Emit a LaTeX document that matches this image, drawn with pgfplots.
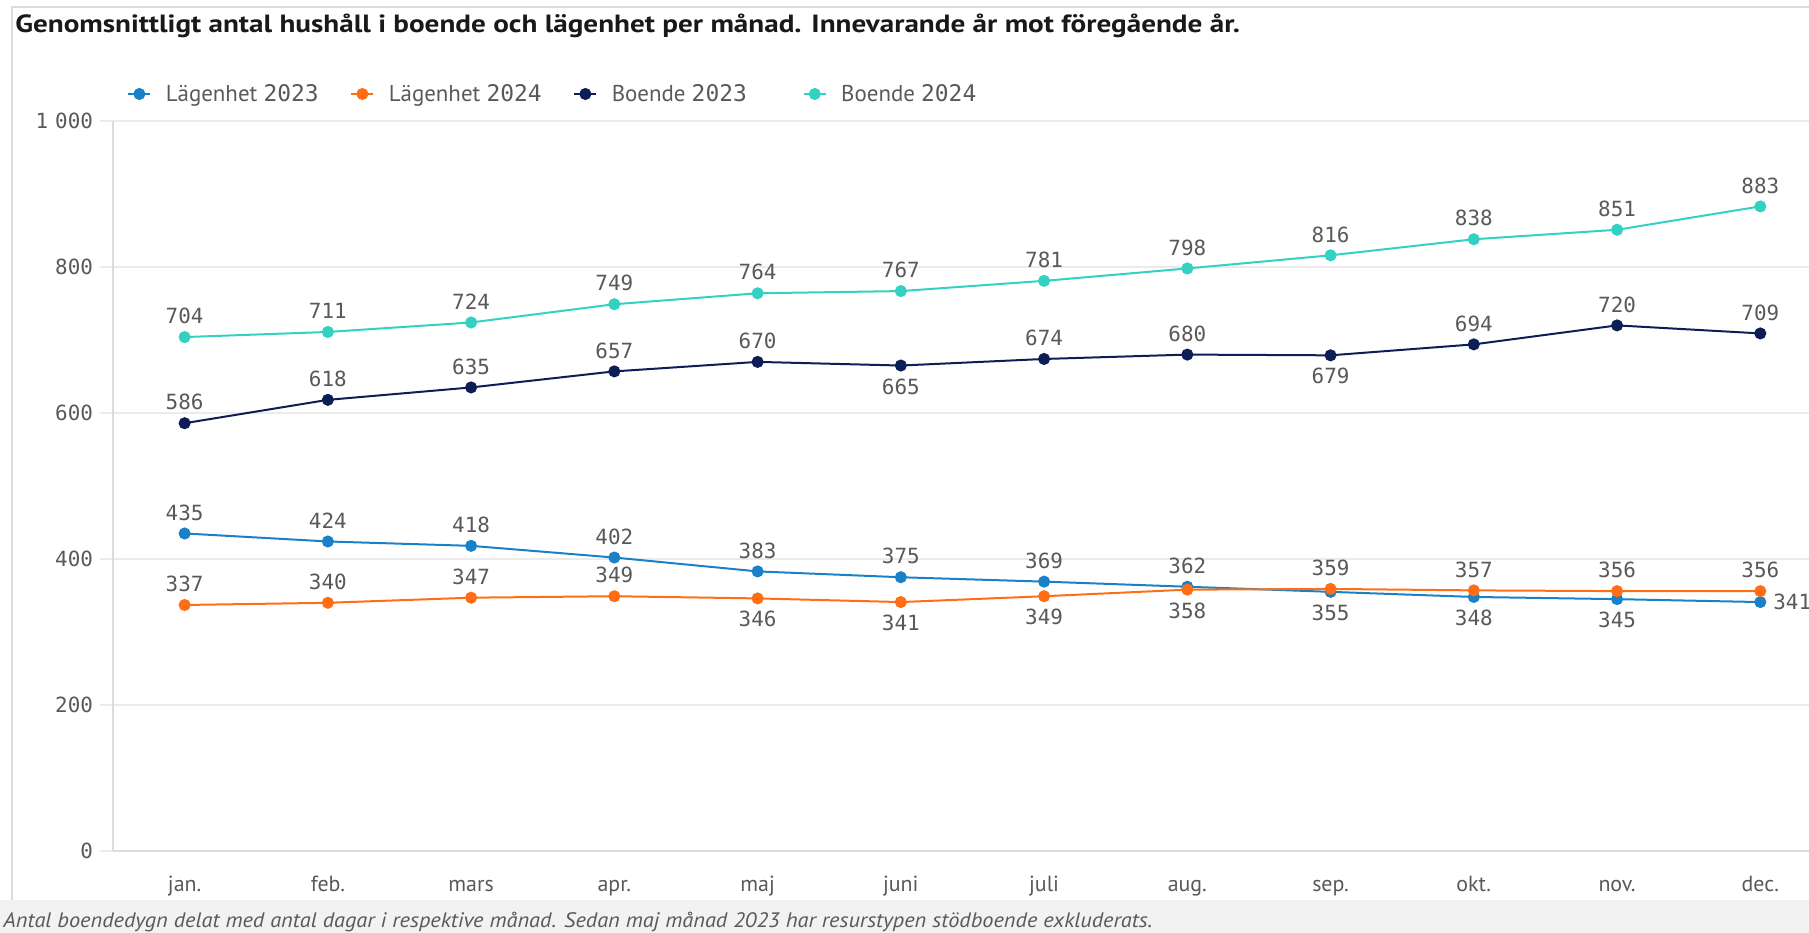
\documentclass[border=0pt]{standalone}
\usepackage{fontspec}
\setmainfont{PT Sans}
\newfontfamily\mono{DejaVu Sans Mono}
\newfontfamily\titlefont{PT Sans}[FakeStretch=1.17]
\newfontfamily\notefont{PT Sans}[FakeStretch=1.07]
\usepackage{pgfplots}
\usepackage{pgfplotstable}
\pgfplotsset{compat=1.18}
\definecolor{cA}{HTML}{1981C7}
\definecolor{cB}{HTML}{FF6E14}
\definecolor{cC}{HTML}{0D1E57}
\definecolor{cD}{HTML}{33D1C1}
\definecolor{txt}{HTML}{595959}
\definecolor{gridc}{HTML}{EBEBEB}
\definecolor{bord}{HTML}{DCDCDC}
\definecolor{band}{HTML}{F2F2F2}

\pgfplotstableread{
x y pos
0 435 south
1 424 south
2 418 south
3 402 south
4 383 south
5 375 south
6 369 south
7 362 south
8 355 north
9 348 north
10 345 north
11 341 west
}\lagA
\pgfplotstableread{
x y pos
0 337 south
1 340 south
2 347 south
3 349 south
4 346 north
5 341 north
6 349 north
7 358 north
8 359 south
9 357 south
10 356 south
11 356 south
}\lagB
\pgfplotstableread{
x y pos
0 586 south
1 618 south
2 635 south
3 657 south
4 670 south
5 665 north
6 674 south
7 680 south
8 679 north
9 694 south
10 720 south
11 709 south
}\boA
\pgfplotstableread{
x y pos
0 704 south
1 711 south
2 724 south
3 749 south
4 764 south
5 767 south
6 781 south
7 798 south
8 816 south
9 838 south
10 851 south
11 883 south
}\boB

\pgfplotsset{
  lstyle/.style={#1, line width=1bp, mark=*, mark size=2.5bp, mark options={solid, fill=#1}},
  myline/.style={lstyle=#1, forget plot,
    point meta=explicit symbolic,
    visualization depends on={rawy\as\yraw},
    nodes near coords={\pgfmathprintnumber[fixed, precision=0, assume math mode=true]{\yraw}},
    every node near coord/.append style={anchor=\pgfplotspointmeta, font=\mono\fontsize{10.5}{12}\selectfont,
      text=txt, inner sep=0pt, outer sep=6.5bp}},
}

\begin{document}
\begin{tikzpicture}
\path[use as bounding box] (0,0) rectangle (904.5bp,466.5bp);
\fill[band] (0,0) rectangle (904.5bp,16.5bp);
\draw[bord, line width=1bp] (6bp,16.5bp) -- (6bp,463bp) -- (904.5bp,463bp);
\node[anchor=west, font=\titlefont\bfseries\fontsize{12.5}{14}\selectfont, text=black!90, inner sep=0pt] at (7.5bp,453.5bp)
  {Genomsnittligt antal hushåll i boende och lägenhet per månad. Innevarande år mot föregående år.};
\node[anchor=west, font=\notefont\itshape\fontsize{10.5}{12}\selectfont, text=txt, inner sep=0pt] at (1.5bp,5.5bp)
  {Antal boendedygn delat med antal dagar i respektive månad. Sedan maj månad 2023 har resurstypen stödboende exkluderats.};
\begin{axis}[
  at={(56.5bp,41bp)}, anchor=south west,
  scale only axis, width=848bp, height=365bp,
  xmin=-0.5, xmax=11.34, ymin=0, ymax=1000,
  axis lines=left, axis line style={draw=bord, line width=1bp, -},
  xtick={0,...,11},
  xticklabels={jan.,feb.,mars,apr.,maj,juni,juli,aug.,sep.,okt.,nov.,dec.},
  x tick style={draw=none},
  ytick={0,200,...,1000}, yticklabels={0,200,400,600,800,1\hspace{3.5bp}000},
  y tick style={draw=gridc, line width=1bp},
  tick align=outside, major tick length=6.5bp,
  ymajorgrids, grid style={draw=gridc, line width=1bp},
  yticklabel style={font=\mono\fontsize{10.5}{12}\selectfont, text=txt},
  xticklabel style={font=\fontsize{11}{13}\selectfont, text=txt, anchor=mid, yshift=-11.5bp},
  clip=false,
  legend columns=4, legend cell align=left,
  legend style={at={(axis description cs:0,1)}, anchor=west, xshift=7bp, yshift=13.5bp,
    draw=none, fill=none, inner sep=0pt, font=\fontsize{11.5}{13}\selectfont, text=txt,
    nodes={inner sep=0pt},
    /tikz/every odd column/.append style={column sep=7.2bp}},
  legend image code/.code={\draw[#1, mark repeat=2, mark phase=2] plot coordinates {(0bp,0bp) (5.5bp,0bp) (11bp,0bp)};},
]
\addlegendimage{lstyle=cA}
\addlegendentry{\makebox[92.3bp][l]{Lägenhet {\mono 2023}}}
\addlegendimage{lstyle=cB}
\addlegendentry{\makebox[92.3bp][l]{Lägenhet {\mono 2024}}}
\addlegendimage{lstyle=cC}
\addlegendentry{\makebox[95.5bp][l]{Boende {\mono 2023}}}
\addlegendimage{lstyle=cD}
\addlegendentry{Boende {\mono 2024}}
\addplot[myline=cA] table[x=x,y=y,meta=pos]{\lagA};
\addplot[myline=cB] table[x=x,y=y,meta=pos]{\lagB};
\addplot[myline=cC] table[x=x,y=y,meta=pos]{\boA};
\addplot[myline=cD] table[x=x,y=y,meta=pos]{\boB};
\end{axis}
\end{tikzpicture}
\end{document}
